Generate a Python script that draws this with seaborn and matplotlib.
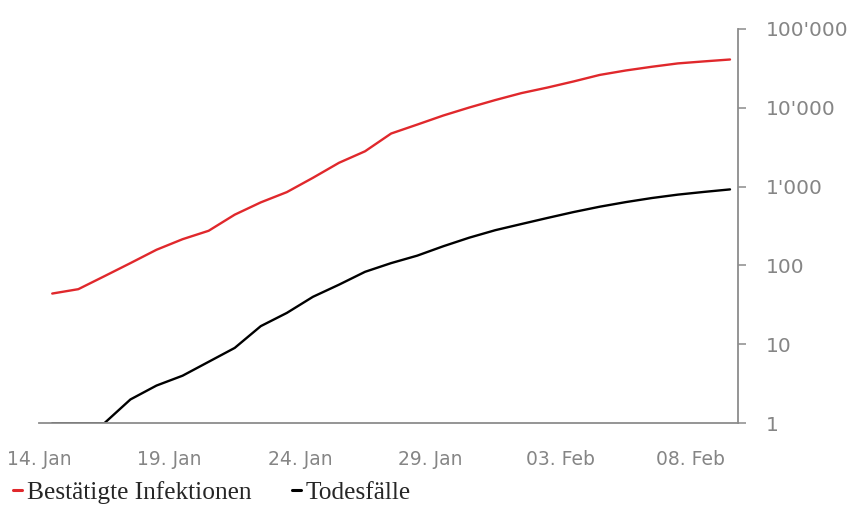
import numpy as np
import pandas as pd
import matplotlib
matplotlib.use("Agg")
import matplotlib.pyplot as plt
import matplotlib.ticker as mticker
from matplotlib.lines import Line2D
import seaborn as sns

# Daily values (14 Jan .. 09 Feb)
dates = pd.date_range("2020-01-14 12:00", periods=27, freq="D")
infektionen = [44, 50, 73, 107, 158, 215, 275, 440, 630, 850,
               1290, 2000, 2800, 4700, 6100, 7950, 10050, 12500, 15300, 18000,
               21500, 26000, 29600, 33000, 36400, 38600, 40800]
todesfaelle = [1, 1, 1, 2, 3, 4, 6, 9, 17, 25,
               40, 57, 83, 107, 133, 175, 225, 280, 335, 400,
               475, 555, 635, 715, 790, 855, 920]

xtick_dates = pd.to_datetime(["2020-01-14", "2020-01-19", "2020-01-24",
                              "2020-01-29", "2020-02-03", "2020-02-08"])
xtick_labels = ["14. Jan", "19. Jan", "24. Jan", "29. Jan", "03. Feb", "08. Feb"]
ytick_values = [1, 10, 100, 1000, 10000, 100000]
ytick_labels = ["1", "10", "100", "1'000", "10'000", "100'000"]

df = pd.DataFrame({
    "Datum": list(dates) * 2,
    "Wert": infektionen + todesfaelle,
    "Serie": ["Bestätigte Infektionen"] * 27 + ["Todesfälle"] * 27,
})

sns.set_style("white")
grey = "#8c8c8c"
red = "#e0282c"

fig = plt.figure(figsize=(8.52, 5.05), dpi=100)
ax = fig.add_axes([0.046, 0.162, 0.82, 0.781])

sns.lineplot(data=df, x="Datum", y="Wert", hue="Serie",
             palette={"Bestätigte Infektionen": red, "Todesfälle": "black"},
             linewidth=1.7, legend=False, ax=ax)

ax.set_yscale("log")
ax.set_ylim(1, 100000)
ax.set_xlim(pd.Timestamp("2020-01-14"), pd.Timestamp("2020-01-14") + pd.Timedelta(days=26.8))

ax.yaxis.tick_right()
ax.set_yticks(ytick_values)
ax.set_yticklabels(ytick_labels)
ax.yaxis.set_minor_locator(mticker.NullLocator())
ax.set_xticks(xtick_dates)
ax.set_xticklabels(xtick_labels)
ax.set_xlabel("")
ax.set_ylabel("")

for side in ["left", "top"]:
    ax.spines[side].set_visible(False)
for side in ["right", "bottom"]:
    ax.spines[side].set_color(grey)
    ax.spines[side].set_linewidth(1.3)

ax.tick_params(axis="both", colors=grey, labelcolor="#858585", labelsize=14.5,
               length=6, width=1.1, direction="out")
ax.tick_params(axis="y", pad=14)
ax.tick_params(axis="x", pad=13, labelsize=13.5)
for lab in ax.get_xticklabels() + ax.get_yticklabels():
    lab.set_family("DejaVu Sans")

handles = [Line2D([], [], color=red, lw=2.2), Line2D([], [], color="black", lw=2.2)]
fig.legend(handles, ["Bestätigte Infektionen", "Todesfälle"], loc="lower left",
           bbox_to_anchor=(-0.012, -0.044), ncol=2, frameon=False,
           handlelength=0.35, handletextpad=0.2, columnspacing=1.6,
           prop={"family": "Liberation Serif", "size": 18.3})

fig.savefig("out.png", dpi=100)
